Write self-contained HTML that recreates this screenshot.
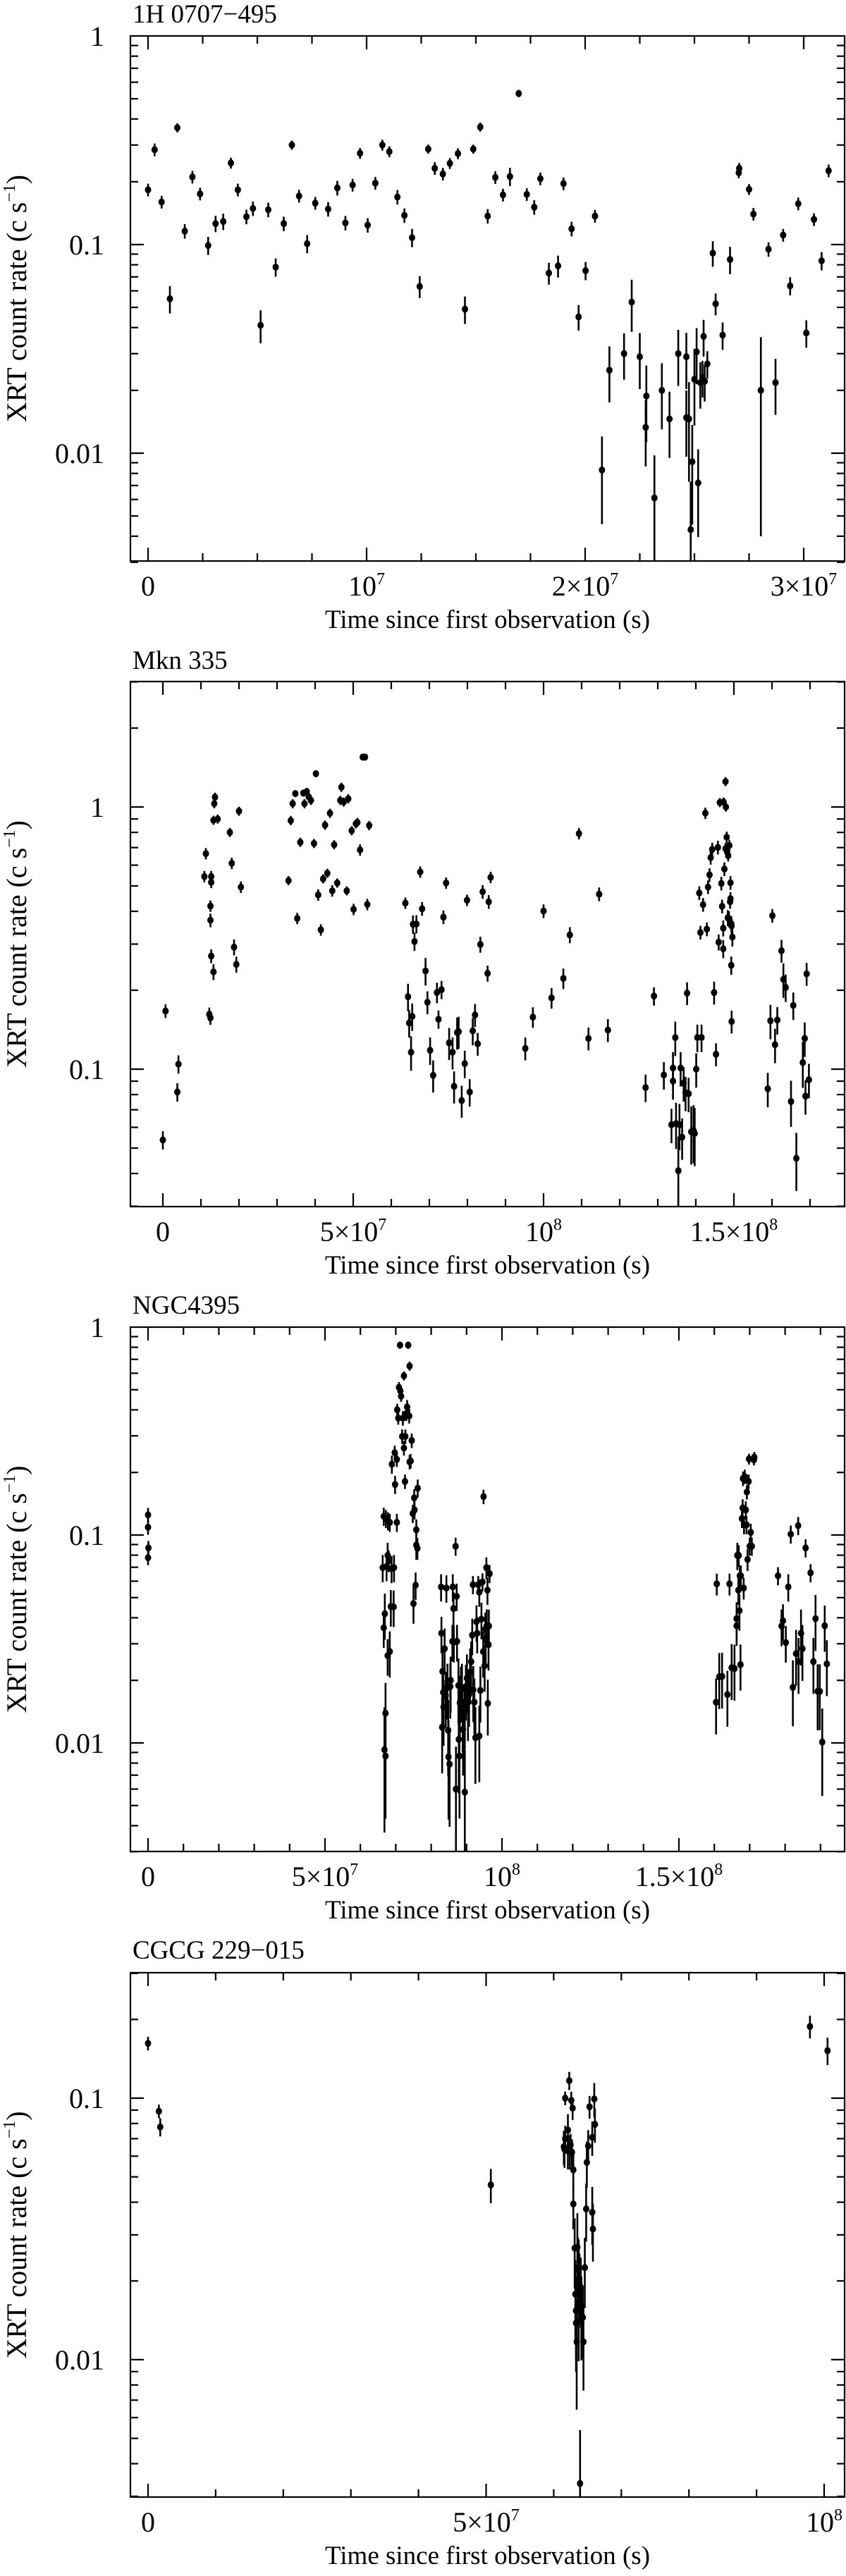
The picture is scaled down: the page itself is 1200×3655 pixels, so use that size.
<!DOCTYPE html>
<html><head><meta charset="utf-8"><style>
html,body{margin:0;padding:0;background:#fff}
svg{display:block}
text{font-family:"Liberation Serif",serif;fill:#000}
</style></head><body>
<svg id="chart" width="1200" height="3655" viewBox="0 0 1200 3655" xmlns="http://www.w3.org/2000/svg"></svg>
<script>
// ---- Panel 1: 1H 0707-495 (time in units of 1e7 s) ----
const times1=[0,0.03,0.062,0.10,0.134,0.168,0.203,0.238,0.275,0.309,0.344,0.379,0.411,0.45,0.48,0.515,0.55,0.584,0.621,0.658,0.691,0.728,0.765,0.824,0.866,0.903,0.936,0.97,1.005,1.04,1.072,1.104,1.141,1.173,1.208,1.243,1.282,1.312,1.349,1.381,1.418,1.45,1.488,1.52,1.554,1.589,1.624,1.656,1.696,1.733,1.767,1.795,1.834,1.876,1.901,1.938,1.97,2.002,2.045,2.077,2.111,2.178,2.213,2.25,2.28,2.277,2.317,2.351,2.386,2.426,2.463,2.463,2.475,2.483,2.49,2.5,2.51,2.517,2.527,2.537,2.542,2.547,2.559,2.584,2.597,2.629,2.663,2.703,2.705,2.75,2.77,2.804,2.839,2.871,2.906,2.938,2.975,3.012,3.047,3.082,3.114];
const rates1=[0.183,0.285,0.16,0.055,0.363,0.116,0.211,0.175,0.099,0.126,0.129,0.246,0.183,0.136,0.149,0.041,0.147,0.078,0.126,0.30,0.171,0.101,0.158,0.148,0.187,0.127,0.193,0.274,0.124,0.197,0.30,0.279,0.169,0.138,0.108,0.063,0.287,0.232,0.218,0.245,0.273,0.049,0.287,0.366,0.137,0.21,0.173,0.212,0.53,0.174,0.151,0.207,0.073,0.079,0.196,0.119,0.045,0.075,0.137,0.0083,0.025,0.030,0.053,0.029,0.0188,0.0133,0.0061,0.020,0.0146,0.030,0.029,0.0148,0.0146,0.0043,0.0091,0.0226,0.0306,0.0072,0.0218,0.0231,0.0363,0.0221,0.0268,0.091,0.052,0.0368,0.0848,0.221,0.232,0.184,0.14,0.020,0.095,0.0218,0.111,0.0634,0.157,0.0377,0.132,0.0836,0.226];
const errs1=[0.07,0.07,0.07,0.15,0.05,0.08,0.07,0.07,0.1,0.09,0.09,0.06,0.07,0.08,0.08,0.18,0.08,0.1,0.08,0.05,0.07,0.1,0.07,0.08,0.08,0.08,0.07,0.06,0.08,0.07,0.06,0.06,0.08,0.08,0.1,0.12,0.05,0.07,0.07,0.06,0.06,0.15,0.05,0.05,0.08,0.07,0.07,0.1,0.04,0.07,0.08,0.07,0.12,0.12,0.07,0.08,0.14,0.1,0.07,0.45,0.3,0.25,0.28,0.3,0.4,0.35,0.6,0.35,0.35,0.3,0.3,0.35,0.5,0.7,0.5,0.4,0.3,0.45,0.25,0.2,0.2,0.2,0.15,0.14,0.12,0.15,0.15,0.06,0.06,0.06,0.07,0.8,0.08,0.3,0.07,0.1,0.07,0.15,0.07,0.1,0.07];

// ---- Panel 2: Mkn 335 ----
const times2=[0,0.07,0.41,0.38,1.09,1.13,1.22,1.25,1.25,1.25,1.27,1.27,1.27,1.33,1.35,1.37,1.33,1.44,1.76,1.81,1.87,1.93,2.0,2.05,3.3,3.36,3.41,3.48,3.53,3.61,3.69,3.72,3.78,3.83,3.89,3.97,4.02,4.08,4.15,4.21,4.26,4.32,4.39,4.45,4.5,4.58,4.66,4.69,4.75,4.83,4.87,4.96,5.01,5.07,5.11,5.18,5.25,5.31,5.37,5.42,6.37,6.44,6.47,6.52,6.55,6.57,6.61,6.66,6.76,6.81,6.9,6.95,7.02,7.1,7.2,7.24,7.32,7.37,7.44,7.52,7.61,7.65,7.73,7.77,7.85,7.93,7.99,8.06,8.14,8.2,8.27,8.34,8.4,8.53,8.56,8.61,9.52,9.72,10.0,10.21,10.52,10.69,10.93,11.18,11.46,11.69,12.68,12.9,13.16,13.36,13.4,13.4,13.46,13.48,13.54,13.57,13.6,13.64,13.68,13.73,13.77,13.81,13.88,13.94,13.97,14.01,14.04,14.09,14.12,14.15,14.19,14.25,14.29,14.32,14.36,14.39,14.43,14.48,14.53,14.58,14.6,14.63,14.67,14.69,14.72,14.72,14.73,14.75,14.78,14.78,14.79,14.81,14.82,14.84,14.85,14.87,14.88,14.9,14.91,14.91,14.93,14.93,14.94,14.96,14.94,15.89,15.96,16.01,16.08,16.14,16.25,16.3,16.36,16.5,16.56,16.64,16.81,16.86,16.88,16.91,16.97];
const rates2=[0.0537,0.1667,0.1045,0.0818,0.543,0.664,0.162,0.157,0.419,0.37,0.516,0.543,0.27,0.235,1.03,1.09,0.89,0.90,0.80,0.61,0.292,0.251,0.964,0.495,0.524,0.888,1.03,1.125,0.376,0.734,1.13,1.03,1.146,1.094,1.06,0.726,1.34,0.462,0.34,0.532,0.853,0.559,0.947,0.479,0.718,0.513,1.06,1.19,1.045,0.479,1.075,0.812,0.407,0.863,0.873,0.686,1.55,1.55,0.425,0.85,0.43,0.189,0.15,0.116,0.159,0.357,0.307,0.358,0.565,0.409,0.237,0.18,0.118,0.0947,0.196,0.155,0.201,0.38,0.513,0.126,0.116,0.086,0.138,0.139,0.0759,0.105,0.441,0.0818,0.14,0.161,0.125,0.299,0.475,0.232,0.435,0.539,0.12,0.158,0.401,0.187,0.222,0.325,0.792,0.131,0.465,0.141,0.0851,0.19,0.095,0.0614,0.101,0.09,0.132,0.062,0.041,0.0614,0.101,0.055,0.0885,0.0813,0.195,0.0806,0.0577,0.0583,0.0569,0.1,0.132,0.47,0.332,0.132,0.424,0.947,0.342,0.495,0.551,0.641,0.689,0.196,0.114,0.701,0.305,1.04,0.511,0.418,0.288,0.345,1.045,0.58,1.25,0.694,1.0,0.767,0.676,0.378,0.652,0.374,0.713,0.435,0.447,0.514,0.359,0.249,0.352,0.319,0.152,0.0842,0.153,0.385,0.124,0.154,0.283,0.22,0.205,0.0753,0.175,0.0457,0.106,0.131,0.0789,0.231,0.0911];
const errs2=[0.08,0.06,0.08,0.08,0.05,0.05,0.06,0.06,0.05,0.06,0.05,0.05,0.06,0.07,0.04,0.04,0.04,0.04,0.04,0.05,0.07,0.07,0.04,0.05,0.04,0.04,0.04,0.03,0.05,0.04,0.03,0.04,0.03,0.04,0.04,0.04,0.03,0.05,0.05,0.04,0.04,0.04,0.04,0.05,0.04,0.04,0.04,0.04,0.04,0.04,0.04,0.04,0.05,0.04,0.04,0.05,0.02,0.02,0.05,0.04,0.05,0.12,0.12,0.15,0.12,0.08,0.08,0.08,0.05,0.06,0.12,0.1,0.12,0.14,0.09,0.08,0.08,0.06,0.05,0.14,0.14,0.14,0.14,0.14,0.14,0.12,0.05,0.12,0.12,0.1,0.1,0.07,0.06,0.07,0.06,0.05,0.1,0.09,0.06,0.09,0.09,0.07,0.05,0.1,0.06,0.1,0.12,0.08,0.12,0.15,0.15,0.15,0.15,0.2,0.35,0.2,0.15,0.18,0.15,0.15,0.1,0.15,0.25,0.25,0.25,0.15,0.12,0.06,0.06,0.12,0.06,0.05,0.06,0.06,0.06,0.06,0.06,0.1,0.1,0.06,0.07,0.04,0.06,0.06,0.08,0.07,0.04,0.06,0.04,0.05,0.04,0.05,0.05,0.07,0.05,0.07,0.05,0.06,0.06,0.06,0.07,0.08,0.07,0.08,0.1,0.15,0.15,0.06,0.15,0.12,0.1,0.15,0.12,0.2,0.12,0.25,0.2,0.15,0.15,0.1,0.15];

// ---- Panel 3: NGC4395 ----
const times3=[0,0,0.01,0,6.63,6.66,6.66,6.68,6.69,6.71,6.71,6.72,6.74,6.77,6.77,6.78,6.80,6.83,6.83,6.86,6.88,6.89,6.94,6.95,6.97,6.98,7.03,7.03,7.04,7.07,7.09,7.12,7.13,7.15,7.18,7.20,7.23,7.23,7.26,7.27,7.30,7.32,7.35,7.38,7.39,7.39,7.42,7.45,7.48,7.50,7.52,7.53,7.56,7.58,7.58,7.61,7.62,8.28,8.29,8.32,8.31,8.34,8.35,8.38,8.41,8.43,8.46,8.48,8.49,8.52,8.54,8.55,8.60,8.61,8.63,8.64,8.69,8.70,8.72,8.73,8.77,8.78,8.80,8.81,8.84,8.87,8.89,8.90,8.95,8.95,8.98,9.01,9.04,9.07,9.10,9.13,9.16,9.18,9.19,9.22,9.25,9.28,9.30,9.33,9.36,9.36,9.39,9.42,9.45,9.47,9.48,9.51,9.53,9.54,9.56,9.57,9.59,9.60,9.62,9.63,9.65,16.05,16.07,16.14,16.22,16.37,16.43,16.49,16.57,16.63,16.63,16.65,16.68,16.69,16.71,16.72,16.74,16.75,16.78,16.80,16.81,16.83,16.84,16.86,16.89,16.91,16.92,16.94,16.97,16.98,17.00,17.03,17.06,17.12,17.13,17.80,17.90,17.94,18.02,18.09,18.16,18.22,18.31,18.37,18.38,18.45,18.49,18.58,18.72,18.80,18.86,18.92,18.98,19.05,19.12,19.18];
const rates3=[0.125,0.109,0.0867,0.0778,0.0697,0.123,0.0358,0.00927,0.0418,0.0139,0.00865,0.12,0.0706,0.0263,0.0798,0.117,0.0753,0.115,0.0275,0.0453,0.069,0.219,0.0451,0.0697,0.249,0.175,0.231,0.115,0.4,0.365,0.513,0.819,0.493,0.465,0.298,0.365,0.583,0.262,0.181,0.298,0.384,0.413,0.819,0.374,0.65,0.225,0.227,0.285,0.127,0.0468,0.151,0.132,0.0574,0.106,0.0895,0.0863,0.168,0.0563,0.0337,0.0221,0.0119,0.0175,0.0149,0.0284,0.0169,0.0556,0.0185,0.0115,0.00857,0.0079,0.0187,0.02,0.0308,0.0563,0.0443,0.0305,0.0883,0.006,0.0507,0.0308,0.0189,0.0104,0.00865,0.0156,0.0179,0.0185,0.0139,0.0116,0.0058,0.0143,0.0183,0.0205,0.0157,0.0171,0.0219,0.0246,0.033,0.0577,0.018,0.0157,0.0106,0.0383,0.0337,0.0577,0.0531,0.0108,0.0179,0.0394,0.0595,0.0275,0.153,0.0235,0.0353,0.0315,0.0697,0.0366,0.0543,0.0155,0.0297,0.0365,0.0652,0.0157,0.0582,0.0208,0.0209,0.0171,0.0582,0.023,0.0228,0.0396,0.0366,0.0798,0.0543,0.0798,0.0433,0.0637,0.0238,0.0637,0.12,0.135,0.187,0.0556,0.112,0.191,0.132,0.112,0.161,0.0763,0.181,0.232,0.0883,0.103,0.0883,0.23,0.237,0.0637,0.0365,0.0387,0.0304,0.0563,0.101,0.0185,0.0269,0.111,0.0246,0.0337,0.0284,0.0867,0.0658,0.0246,0.0396,0.0177,0.0177,0.0101,0.0366,0.024];
const errs3=[0.08,0.08,0.08,0.08,0.15,0.1,0.2,0.6,0.25,0.4,0.5,0.1,0.15,0.2,0.15,0.1,0.12,0.1,0.25,0.2,0.15,0.1,0.2,0.15,0.08,0.1,0.08,0.1,0.07,0.07,0.06,0.04,0.06,0.06,0.08,0.08,0.05,0.08,0.08,0.08,0.08,0.08,0.04,0.08,0.05,0.08,0.08,0.08,0.1,0.2,0.1,0.1,0.15,0.12,0.15,0.12,0.1,0.15,0.2,0.3,0.4,0.3,0.35,0.25,0.3,0.15,0.3,0.4,0.5,0.5,0.3,0.3,0.2,0.15,0.2,0.2,0.1,0.6,0.15,0.2,0.35,0.45,0.5,0.35,0.3,0.3,0.35,0.4,0.6,0.35,0.3,0.3,0.35,0.3,0.3,0.25,0.2,0.1,0.3,0.3,0.4,0.2,0.2,0.1,0.15,0.4,0.3,0.2,0.1,0.25,0.08,0.25,0.2,0.25,0.12,0.2,0.15,0.3,0.25,0.2,0.1,0.3,0.12,0.3,0.3,0.3,0.12,0.3,0.3,0.2,0.2,0.15,0.15,0.12,0.2,0.12,0.25,0.12,0.1,0.1,0.08,0.12,0.1,0.08,0.1,0.1,0.08,0.12,0.08,0.06,0.1,0.1,0.1,0.06,0.06,0.1,0.2,0.2,0.2,0.15,0.1,0.35,0.3,0.1,0.3,0.3,0.3,0.1,0.1,0.3,0.3,0.35,0.35,0.45,0.25,0.3];

// ---- Panel 4: CGCG 229-015 ----
const times4=[0,0.16,0.18,5.07,6.15,6.16,6.17,6.17,6.21,6.21,6.23,6.24,6.25,6.26,6.27,6.28,6.29,6.29,6.31,6.32,6.33,6.33,6.34,6.35,6.36,6.37,6.37,6.38,6.39,6.40,6.41,6.41,6.42,6.43,6.44,6.46,6.48,6.49,6.51,6.53,6.57,6.57,6.58,6.60,6.61,9.79,10.05];
const rates4=[0.162,0.0891,0.0776,0.0466,0.0652,0.0637,0.07,0.1,0.0628,0.0755,0.1167,0.0628,0.0664,0.098,0.0621,0.0916,0.0532,0.0394,0.0267,0.0178,0.0154,0.0138,0.0117,0.0269,0.0225,0.0221,0.0141,0.0196,0.00336,0.0189,0.016,0.0142,0.0146,0.0145,0.0117,0.0225,0.0377,0.0568,0.0656,0.0927,0.0708,0.0366,0.0316,0.0993,0.0794,0.188,0.152];
const errs4=[0.06,0.06,0.08,0.15,0.15,0.15,0.12,0.06,0.15,0.15,0.08,0.15,0.1,0.08,0.12,0.1,0.15,0.2,0.3,0.35,0.35,0.35,0.45,0.35,0.3,0.3,0.3,0.3,0.6,0.3,0.3,0.3,0.3,0.3,0.35,0.3,0.25,0.2,0.15,0.1,0.15,0.25,0.25,0.15,0.15,0.1,0.12];

const NS='http://www.w3.org/2000/svg';
const svg=document.getElementById('chart');
function mk(tag,attrs,parent){const e=document.createElementNS(NS,tag);for(const k in attrs)e.setAttribute(k,attrs[k]);(parent||svg).appendChild(e);return e;}

const panels=[
 {key:'p1',title:'1H 0707\u2212495',titleY:32,left:185,right:1198,top:51,bottom:796,x0:210,xs:310,yRef:51,yRefLog:0,ys:296,
  yMaj:[1,0.1,0.01],yLab:['1','0.1','0.01'],yMinDec:[-3,-2,-1],yLo:0.0029,yHi:1.0,
  xMaj:[0,1,2,3],xLab:[['0',''],['10','7'],['2\u00d710','7'],['3\u00d710','7']],xMinStep:0.25,xMinMax:3.2,
  t:times1,r:rates1,e:errs1},
 {key:'p2',title:'Mkn 335',titleY:949,left:185,right:1198,top:967,bottom:1712,x0:231,xs:54,yRef:1145,yRefLog:0,ys:372,
  yMaj:[1,0.1],yLab:['1','0.1'],yMinDec:[-2,-1,0],yLo:0.03,yHi:3.0,
  xMaj:[0,5,10,15],xLab:[['0',''],['5\u00d710','7'],['10','8'],['1.5\u00d710','8']],xMinStep:1,xMinMax:17.9,
  t:times2,r:rates2,e:errs2},
 {key:'p3',title:'NGC4395',titleY:1864,left:185,right:1198,top:1883,bottom:2627,x0:210,xs:50.2,yRef:1883,yRefLog:0,ys:295,
  yMaj:[1,0.1,0.01],yLab:['1','0.1','0.01'],yMinDec:[-3,-2,-1],yLo:0.0029,yHi:1.0,
  xMaj:[0,5,10,15],xLab:[['0',''],['5\u00d710','7'],['10','8'],['1.5\u00d710','8']],xMinStep:1,xMinMax:19.7,
  t:times3,r:rates3,e:errs3},
 {key:'p4',title:'CGCG 229\u2212015',titleY:2779,left:185,right:1198,top:2799,bottom:3543,x0:210,xs:95.9,yRef:2977,yRefLog:-1,ys:371,
  yMaj:[0.1,0.01],yLab:['0.1','0.01'],yMinDec:[-3,-2,-1],yLo:0.0029,yHi:0.31,
  xMaj:[0,5,10],xLab:[['0',''],['5\u00d710','7'],['10','8']],xMinStep:1,xMinMax:10.3,
  t:times4,r:rates4,e:errs4}
];

panels.forEach(p=>{
  const g=mk('g',{});
  
  
  const X=t=>p.x0+t*p.xs;
  const Y=r=>p.yRef-(Math.log10(r)-p.yRefLog)*p.ys;
  const tt=mk('text',{x:188,y:p.titleY,'font-size':37},g);
  tt.textContent=p.title;
  
  
  const box=mk('rect',{x:p.left,y:p.top,width:p.right-p.left,height:p.bottom-p.top,fill:'none',stroke:'#000','stroke-width':2.2},g);
  
  
  const tk=mk('g',{stroke:'#000','stroke-width':2.2},g);
  
  
  p.yMinDec.forEach(dec=>{
    for(let m=1;m<=9;m++){
      const v=m*Math.pow(10,dec);
      if(v<p.yLo||v>p.yHi)continue;
      const yy=Y(v); const L=(m===1)?19:11;
      mk('line',{x1:p.left,x2:p.left+L,y1:yy,y2:yy},tk);
      mk('line',{x1:p.right,x2:p.right-L,y1:yy,y2:yy},tk);
    }
  });
  p.yMaj.forEach((v,i)=>{
    const lb=mk('text',{x:148,y:Y(v)+14,'font-size':40,'text-anchor':'end'},g);
    lb.textContent=p.yLab[i];
    
    
  });
  for(let t=0;t<=p.xMinMax+1e-9;t+=p.xMinStep){
    const tr=Math.round(t*100)/100;
    const isMaj=p.xMaj.some(v=>Math.abs(v-tr)<1e-6);
    const xx=X(tr); const L=isMaj?19:11;
    if(xx>p.right)continue;
    mk('line',{x1:xx,x2:xx,y1:p.bottom,y2:p.bottom-L},tk);
    mk('line',{x1:xx,x2:xx,y1:p.top,y2:p.top+L},tk);
  }
  p.xMaj.forEach((v,i)=>{
    const lb=mk('text',{x:X(v),y:p.bottom+49,'font-size':40,'text-anchor':'middle'},g);
    
    
    const a=mk('tspan',{},lb); a.textContent=p.xLab[i][0];
    if(p.xLab[i][1]){const s=mk('tspan',{dy:-16,'font-size':24},lb); s.textContent=p.xLab[i][1];}
  });
  const xt=mk('text',{x:(p.left+p.right)/2,y:p.bottom+95,'font-size':37,'text-anchor':'middle'},g);
  xt.textContent='Time since first observation (s)';
  
  
  const cy=(p.top+p.bottom)/2;
  const yt=mk('text',{x:0,y:0,'font-size':40,'text-anchor':'middle',transform:'translate(37,'+cy+') rotate(-90)'},g);
  
  
  const y1=mk('tspan',{},yt); y1.textContent='XRT count rate (c s';
  const y2=mk('tspan',{dy:-16,'font-size':24},yt); y2.textContent='\u22121';
  const y3=mk('tspan',{dy:16},yt); y3.textContent=')';
  const dg=mk('g',{},g);
  
  
  const n=Math.min(p.t.length,p.r.length,p.e.length);
  for(let i=0;i<n;i++){
    const r=p.r[i], e=p.e[i];
    const xx=X(p.t[i]);
    const lo=Math.max(r*(1-e),r*0.05);
    let yl=Math.min(Y(lo),p.bottom), yh=Math.max(Y(r*(1+e)),p.top);
    const bar=mk('line',{x1:xx,x2:xx,y1:yl,y2:yh,stroke:'#000','stroke-width':2.6},dg);
    
    
    const pt=mk('ellipse',{cx:xx,cy:Y(r),rx:4.5,ry:5,fill:'#000'},dg);
    
    
  }
});
</script>
</body></html>
